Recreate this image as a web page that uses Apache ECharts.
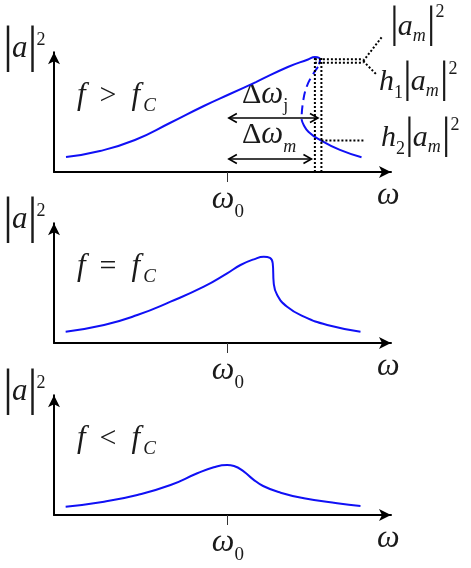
<!DOCTYPE html>
<html><head><meta charset="utf-8">
<script src="https://cdn.jsdelivr.net/npm/echarts@6/dist/echarts.min.js"></script>
<style>html,body{margin:0;padding:0;background:#fff}#c{width:471px;height:568px}</style>
</head><body><div id="c"></div>
<script>
// ---------- data (x: frequency units, omega0 at 5.04; y: |a|^2 units) ----------
const OMEGA0 = 5.04;
const X_MAX = 9.83;
const Y_MAX = 9.5;
// Panel 1: f > f_C
const curveAboveUpper = [[0.35,1.19],[1.34,1.67],[2.36,2.54],[3.38,3.89],[4.37,5.24],[5.13,6.19],[5.89,7.14],[6.82,8.33],[7.41,8.93],[7.61,9.13],[7.76,8.93],[7.73,8.55]];
const curveAboveUnstable = [[7.70,8.35],[7.52,7.6],[7.37,6.77],[7.26,5.5],[7.22,4.2]];
const curveAboveLower = [[7.22,4.2],[7.28,3.75],[7.42,3.2],[7.76,2.54],[8.34,1.75],[8.97,1.17]];
// Panel 2: f = f_C
const curveCritical = [[0.34,0.90],[1.46,1.43],[2.43,2.22],[3.40,3.28],[4.37,4.47],[5.05,5.53],[5.44,6.19],[5.83,6.64],[6.12,6.85],[6.30,6.75],[6.38,6.33],[6.41,4.74],[6.51,3.81],[6.80,2.88],[7.29,2.09],[7.97,1.43],[8.94,0.90]];
// Panel 3: f < f_C
const curveBelow = [[0.34,0.66],[1.46,1.06],[2.43,1.59],[3.40,2.38],[4.18,3.31],[4.66,3.79],[5.05,3.97],[5.25,3.89],[5.54,3.44],[5.80,2.85],[6.10,2.30],[6.61,1.77],[7.29,1.33],[8.26,0.93],[8.94,0.71]];
// Panel 1 annotations
const jumpX = [7.61, 7.80];          // dotted vertical lines
const jumpTop = 9.1;
const amLevels = [8.94, 8.67];       // double dotted line at |a_m|^2
const h2Level = 2.5;                 // h2 |a_m|^2
const leaderEndX = 9.02;
const leaderBranches = [[9.56, 10.7], [9.42, 7.7]];
const h2EndX = 9.07;
const arrowStart = 5.10;
const arrowJ = {end: 7.70, y: 4.29};
const arrowM = {end: 7.51, y: 1.03};
// text
const relSigns = ['>', '=', '<'];

const BLUE = '#1010f5';
const TXT = '#1a1a1a';
const FONT = '"Liberation Serif","Times New Roman",serif';

const chart = echarts.init(document.getElementById('c'), null, {renderer: 'canvas'});
const gridTops = [52.3, 223.3, 395.3];
const grids = gridTops.map(t => ({left: 54, top: t, width: 337, height: 119.7}));

const xAxes = grids.map((g, i) => ({
  type: 'value', gridIndex: i, min: 0, max: X_MAX,
  axisLine: {show: true, onZero: false, symbol: ['none', 'arrow'], symbolSize: [9, 12], lineStyle: {color: '#000', width: 2}},
  axisTick: {show: true, customValues: [OMEGA0], length: 10, inside: false, lineStyle: {color: '#333', width: 1}},
  axisLabel: {show: false}, splitLine: {show: false}
}));
const yAxes = grids.map((g, i) => ({
  type: 'value', gridIndex: i, min: 0, max: Y_MAX,
  axisLine: {show: true, onZero: false, symbol: ['none', 'arrow'], symbolSize: [9, 12], lineStyle: {color: '#000', width: 2}},
  axisTick: {show: false}, axisLabel: {show: false}, splitLine: {show: false}
}));

function curve(data, idx, type) {
  return {type: 'line', xAxisIndex: idx, yAxisIndex: idx, data: data, smooth: 0.5, symbol: 'none', showSymbol: false,
    clip: false, silent: true, lineStyle: {color: BLUE, width: 2, type: type || 'solid'}};
}
function seg(data, w, dash, color) {
  return {type: 'line', xAxisIndex: 0, yAxisIndex: 0, data: data, symbol: 'none', showSymbol: false, clip: false, silent: true,
    lineStyle: {color: color || '#000', width: w, type: dash || 'solid'}};
}

const series = [
  curve(curveAboveUpper, 0),
  curve(curveAboveUnstable, 0, [9, 5]),
  curve(curveAboveLower, 0),
  curve(curveCritical, 1),
  curve(curveBelow, 2)
];
jumpX.forEach(x => series.push(seg([[x, 0], [x, jumpTop]], 2, [2, 2])));
amLevels.forEach(y => series.push(seg([[jumpX[0], y], [leaderEndX, y]], 2, [2, 2])));
leaderBranches.forEach(b => series.push(seg([[leaderEndX, (amLevels[0] + amLevels[1]) / 2], b], 2, [2, 2])));
series.push(seg([[jumpX[1], h2Level], [h2EndX, h2Level]], 2, [2, 2]));
series.push(seg([[arrowStart, arrowJ.y], [arrowJ.end, arrowJ.y]], 1.6));
series.push(seg([[arrowStart, arrowM.y], [arrowM.end, arrowM.y]], 1.6));

chart.setOption({
  animation: false,
  backgroundColor: '#fff',
  grid: grids, xAxis: xAxes, yAxis: yAxes, series: series
});

// ---------- text & arrowheads ----------
const ctx = document.createElement('canvas').getContext('2d');
function mathLabel(x, base, pieces) {
  const out = [];
  let cx = x;
  pieces.forEach(p => {
    const st = p.it ? 'italic' : 'normal';
    ctx.font = st + ' ' + p.size + 'px ' + FONT;
    const w = ctx.measureText(p.t).width;
    cx += (p.dx || 0);
    out.push({type: 'text', x: cx, y: base + (p.dy || 0) - 0.3375 * p.size, silent: true,
      style: {text: p.t, fill: TXT, fontSize: p.size, fontFamily: FONT, fontStyle: st, align: 'left', verticalAlign: 'middle'}});
    cx += w;
  });
  return out;
}
function arrowHead(tip, dir) {
  const L = 8, W = 4.5;
  const bx = tip[0] - dir[0] * L, by = tip[1] - dir[1] * L;
  return {type: 'polyline', silent: true, shape: {points: [[bx - dir[1] * W, by + dir[0] * W], tip, [bx + dir[1] * W, by - dir[0] * W]]},
    style: {stroke: '#000', lineWidth: 1.6, fill: 'none'}};
}

let graphics = [];
grids.forEach((g, i) => {
  const axisY = g.top + g.height;
  const topY = g.top - 6;
  // |a|^2
  graphics = graphics.concat(mathLabel(3, topY + 13, [
    {t: '|', size: 50, dy: 5}, {t: 'a', size: 31, it: true, dx: -1}, {t: '|', size: 50, dy: 5, dx: 0}, {t: '2', size: 18, dy: -13, dx: -1}
  ]));
  // f ? f_C
  graphics = graphics.concat(mathLabel(77, axisY - 66, [
    {t: 'f', size: 31, it: true}, {t: relSigns[i], size: 30, dx: 14}, {t: 'f', size: 31, it: true, dx: 15}, {t: 'C', size: 19, it: true, dy: 6, dx: 3}
  ]));
  // omega0
  const p0 = chart.convertToPixel({gridIndex: i}, [OMEGA0, 0]);
  graphics = graphics.concat(mathLabel(p0[0] - 15, axisY + 38, [
    {t: 'ω', size: 32, it: true}, {t: '0', size: 19, dy: 8}
  ]));
  // omega
  graphics = graphics.concat(mathLabel(377, axisY + 34, [{t: 'ω', size: 32, it: true}]));
});

// panel 1 right-hand labels
graphics = graphics.concat(mathLabel(390, 37, [
  {t: '|', size: 44, dy: 3}, {t: 'a', size: 30, it: true, dx: -1}, {t: 'm', size: 18, it: true, dy: 5}, {t: '|', size: 44, dy: 3, dx: 1}, {t: '2', size: 18, dy: -19}
]));
graphics = graphics.concat(mathLabel(379, 92, [
  {t: 'h', size: 30, it: true}, {t: '1', size: 18, dy: 7}, {t: '|', size: 44, dy: 3}, {t: 'a', size: 30, it: true, dx: -1}, {t: 'm', size: 18, it: true, dy: 5}, {t: '|', size: 44, dy: 3, dx: 1}, {t: '2', size: 18, dy: -17}
]));
graphics = graphics.concat(mathLabel(381, 148, [
  {t: 'h', size: 30, it: true}, {t: '2', size: 18, dy: 7}, {t: '|', size: 44, dy: 3}, {t: 'a', size: 30, it: true, dx: -1}, {t: 'm', size: 18, it: true, dy: 5}, {t: '|', size: 44, dy: 3, dx: 1}, {t: '2', size: 18, dy: -17}
]));
// delta omega labels
graphics = graphics.concat(mathLabel(242, 105, [
  {t: 'Δ', size: 30}, {t: 'ω', size: 31, it: true}, {t: 'j', size: 18, dy: 7}
]));
graphics = graphics.concat(mathLabel(242, 145, [
  {t: 'Δ', size: 30}, {t: 'ω', size: 31, it: true}, {t: 'm', size: 18, it: true, dy: 8}
]));
// arrowheads
[arrowJ, arrowM].forEach(a => {
  const s = chart.convertToPixel({gridIndex: 0}, [arrowStart, a.y]);
  const e = chart.convertToPixel({gridIndex: 0}, [a.end, a.y]);
  graphics.push(arrowHead(s, [-1, 0]));
  graphics.push(arrowHead(e, [1, 0]));
});

chart.setOption({graphic: graphics});
</script>
</body></html>
